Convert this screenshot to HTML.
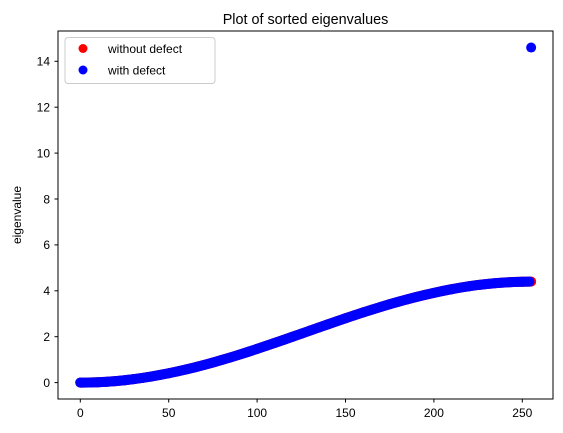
<!DOCTYPE html>
<html><head><meta charset="utf-8"><style>
body{margin:0;background:#fff;}
svg{display:block;font-family:"Liberation Sans","DejaVu Sans",sans-serif;}
</style></head><body>
<svg id="chart" width="563" height="433">
<rect x="0" y="0" width="563" height="433" fill="#fff"/>
<text x="305.5" y="24" font-size="14.4" text-anchor="middle">Plot of sorted eigenvalues</text>
<g id="marks"></g>
<rect x="58" y="31" width="495" height="368" fill="none" stroke="#000" stroke-width="1"/>
<g id="xaxis"></g>
<g id="yaxis"></g>
<text transform="translate(21,215) rotate(-90)" font-size="12" text-anchor="middle">eigenvalue</text>
<g>
<rect x="65" y="37.5" width="150" height="46" rx="3" fill="#fff" fill-opacity="0.8" stroke="#ccc"/>
<circle cx="83" cy="48.5" r="4.5" fill="#f00"/>
<text x="108" y="53" font-size="12">without defect</text>
<circle cx="83" cy="70" r="4.5" fill="#00f"/>
<text x="108" y="74.5" font-size="12">with defect</text>
</g>
</svg>
<script>
const indicesA=[0,5,10,15,20,25,30,35,40,45,50,55,60,65,70,75,80,85,90,95,100,105,110,115,120,125,130,135,140,145,150,155,160,165,170,175,180,185,190,195,200,205,210,215,220,225,230,235,240,245,250,255];
const valuesWithout=[0,0.004,0.017,0.037,0.066,0.103,0.149,0.202,0.263,0.332,0.407,0.489,0.578,0.668,0.769,0.875,0.985,1.10,1.219,1.342,1.469,1.598,1.730,1.863,1.997,2.132,2.268,2.403,2.537,2.671,2.802,2.932,3.058,3.182,3.30,3.415,3.524,3.630,3.730,3.824,3.912,3.994,4.070,4.138,4.200,4.254,4.297,4.334,4.362,4.383,4.396,4.40];
const indicesB=[0,5,10,15,20,25,30,35,40,45,50,55,60,65,70,75,80,85,90,95,100,105,110,115,120,125,130,135,140,145,150,155,160,165,170,175,180,185,190,195,200,205,210,215,220,225,230,235,240,245,250,254,255];
const valuesWith=[0,0.004,0.017,0.037,0.066,0.103,0.149,0.202,0.263,0.332,0.407,0.489,0.578,0.668,0.769,0.875,0.985,1.10,1.219,1.342,1.469,1.598,1.730,1.863,1.997,2.132,2.268,2.403,2.537,2.671,2.802,2.932,3.058,3.182,3.30,3.415,3.524,3.630,3.730,3.824,3.912,3.994,4.070,4.138,4.200,4.254,4.297,4.334,4.362,4.383,4.396,4.40,14.6];
const xTicks=[0,50,100,150,200,250];
const yTicks=[0,2,4,6,8,10,12,14];

const NS="http://www.w3.org/2000/svg";
const x=v=>80.3+v*1.768;
const y=v=>382.6-v*22.95;
function mk(tag,attrs,parent){const e=document.createElementNS(NS,tag);for(const k in attrs)e.setAttribute(k,attrs[k]);parent.appendChild(e);return e;}
const marks=document.getElementById('marks');
function series(xs,ys,color,name){
  const g=mk('g',{},marks);
  
  
  let pts=[];
  for(let i=0;i<xs.length;i++){
    if(i>0 && Math.abs(ys[i]-ys[i-1])>1) break;
    pts.push(x(xs[i])+','+y(ys[i]));
  }
  const pl=mk('polyline',{points:pts.join(' '),fill:'none',stroke:color,'stroke-width':10,'stroke-linecap':'round','stroke-linejoin':'round'},g);
  
  
  for(let i=0;i<xs.length;i++){
    const c=mk('circle',{cx:x(xs[i]),cy:y(ys[i]),r:5,fill:color},g);
    
    
  }
}
series(indicesA,valuesWithout,'#f00','series-without-defect');
series(indicesB,valuesWith,'#00f','series-with-defect');
const xa=document.getElementById('xaxis');
xTicks.forEach(t=>{
  const l=mk('line',{x1:x(t),x2:x(t),y1:399,y2:402.5,stroke:'#000'},xa);
  
  
  const tx=mk('text',{x:x(t),y:417,'font-size':12,'text-anchor':'middle'},xa);
  tx.textContent=t;
  
  
});
const ya=document.getElementById('yaxis');
yTicks.forEach(t=>{
  const l=mk('line',{x1:54.5,x2:58,y1:y(t),y2:y(t),stroke:'#000'},ya);
  
  
  const tx=mk('text',{x:50,y:y(t)+4.3,'font-size':12,'text-anchor':'end'},ya);
  tx.textContent=t;
  
  
});
</script>
</body></html>
